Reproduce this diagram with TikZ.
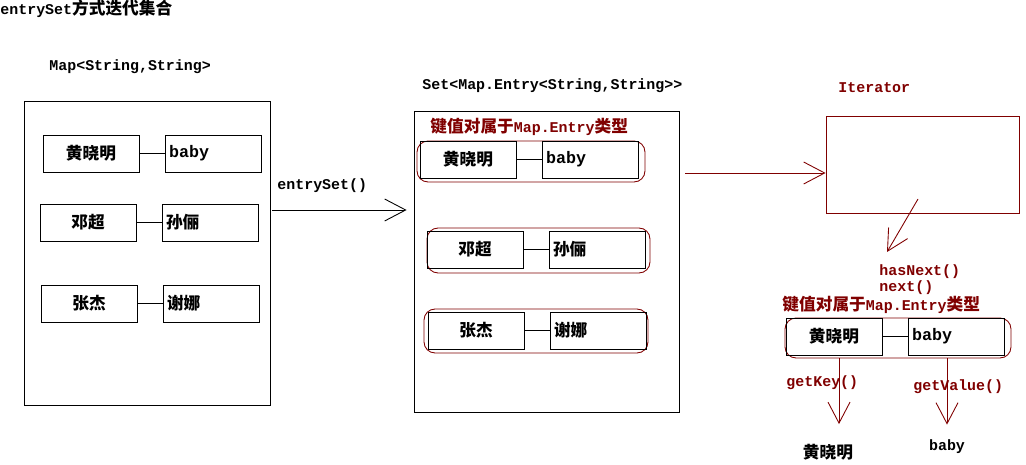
\documentclass[tikz,border=0pt]{standalone}
\usepackage{fontspec}
\setmainfont{Liberation Mono}
\newfontfamily\cjk{Noto Sans CJK SC}
\usetikzlibrary{arrows.meta,positioning}
\definecolor{darkred}{RGB}{128,0,0}
\tikzset{%
	frame/.style    = {draw, rectangle, inner sep=0pt},
	keybox/.style   = {draw, rectangle, minimum width=1.92cm, minimum height=0.74cm, inner sep=0pt, font=\cjk\bfseries\fontsize{9.5}{10}\selectfont},
	valbox/.style   = {keybox, text width=1.76cm, inner xsep=0.08cm, align=left},
	entry/.style    = {draw=darkred, rectangle, rounded corners=0.22cm, inner sep=0pt},
	lbl/.style      = {inner sep=0pt, anchor=west, font=\bfseries\fontsize{8.5}{9}\selectfont},
	redlbl/.style   = {lbl, text=darkred},
	openarrow/.style= {-{Straight Barb[length=0.42cm, width=0.44cm]}},
}
\begin{document}
\begin{tikzpicture}[x=0.02cm, y=-0.02cm, line width=0.5pt]
	\useasboundingbox (0,0) rectangle (1026,465);
	\node[lbl] (title) at (0,9) {entrySet{\cjk\fontsize{9.5}{10}\selectfont 方式迭代集合}};
	% Map
	\node[lbl] (maplbl) at (49,67) {Map<String,String>};
	\node[frame, minimum width=4.92cm, minimum height=6.08cm] (mapbox) at (147,253) {};
	\node[keybox] (mk1) at (91,153.5) {黄晓明};
	\node[valbox] (mv1) at (213,153.5) {\rmfamily baby};
	\node[keybox] (mk2) at (88,222.5) {邓超};
	\node[valbox] (mv2) at (210,222.5) {孙俪};
	\node[keybox] (mk3) at (89,303.5) {张杰};
	\node[valbox] (mv3) at (211,303.5) {谢娜};
	\foreach \i in {1,2,3} \draw (mk\i) -- (mv\i);
	% Set
	\node[lbl] (entrysetlbl) at (277,186) {entrySet()};
	\node[lbl] (setlbl) at (422,86) {Set<Map.Entry<String,String>{}>};
	\node[frame, minimum width=5.3cm, minimum height=6.02cm] (setbox) at (546.5,261.5) {};
	\node[redlbl] (typelbl) at (430,127) {{\cjk\fontsize{9.5}{10}\selectfont 键值对属于}Map.Entry{\cjk\fontsize{9.5}{10}\selectfont 类型}};
	\node[entry, minimum width=4.56cm, minimum height=0.82cm] (se1) at (531,161.5) {};
	\node[entry, minimum width=4.46cm, minimum height=0.9cm] (se2) at (538.5,250.5) {};
	\node[entry, minimum width=4.48cm, minimum height=0.88cm] (se3) at (536,331) {};
	\node[keybox] (sk1) at (468,159.5) {黄晓明};
	\node[valbox] (sv1) at (590,159.5) {\rmfamily baby};
	\node[keybox] (sk2) at (475,249.5) {邓超};
	\node[valbox] (sv2) at (597,249.5) {孙俪};
	\node[keybox] (sk3) at (476,330.5) {张杰};
	\node[valbox] (sv3) at (598,330.5) {谢娜};
	\foreach \i in {1,2,3} \draw (sk\i) -- (sv\i);
	\draw[openarrow, shorten <=0.04cm, shorten >=0.14cm] (mapbox.east |- 0,210) -- (setbox.west |- 0,210);
	% Iterator
	\node[redlbl] (itlbl) at (838,88) {Iterator};
	\node[frame, draw=darkred, minimum width=3.86cm, minimum height=1.94cm] (itbox) at (922.5,164.5) {};
	\draw[openarrow, darkred, shorten <=0.12cm] (setbox.east |- 0,173) -- (itbox.west |- 0,173);
	\coordinate (itfrom) at (918,199);
	\coordinate (itto) at (887,252);
	\draw[openarrow, darkred] (itfrom) -- (itto);
	\node[redlbl, align=left] (nextlbl) at (879,280) {hasNext()\\next()};
	% one entry
	\node[redlbl] (typelbl2) at (782,305) {{\cjk\fontsize{9.5}{10}\selectfont 键值对属于}Map.Entry{\cjk\fontsize{9.5}{10}\selectfont 类型}};
	\node[entry, minimum width=4.52cm, minimum height=0.8cm] (be) at (898,338) {};
	\node[keybox] (bk) at (834,336.5) {黄晓明};
	\node[valbox] (bv) at (956,336.5) {\rmfamily baby};
	\draw (bk) -- (bv);
	\node[keybox, draw=none] (keyout) at (828,452) {黄晓明};
	\node[lbl, anchor=center] (valout) at (947,447) {baby};
	\node[redlbl] (getkeylbl) at (786,383) {getKey()};
	\node[redlbl] (getvallbl) at (913,387) {getValue()};
	\draw[openarrow, darkred, shorten >=0.18cm] (be.south -| 839,0) -- (keyout.north -| 839,0);
	\draw[openarrow, darkred, shorten >=0.3cm] (be.south -| valout) -- (valout.north);
\end{tikzpicture}
\end{document}
